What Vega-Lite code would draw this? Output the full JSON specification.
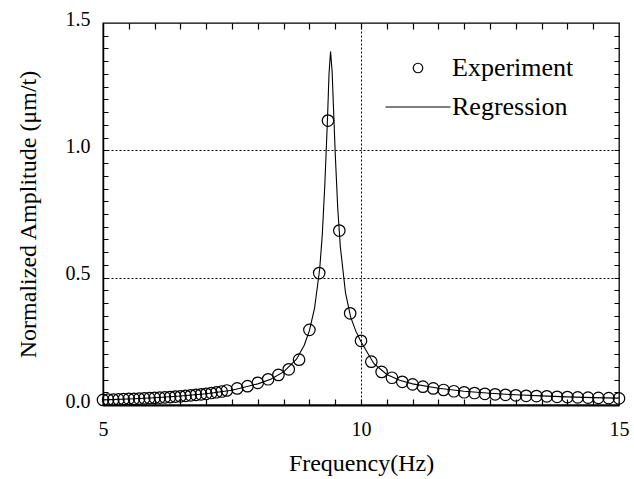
{
  "$schema": "https://vega.github.io/schema/vega-lite/v6.json",
  "width": 516,
  "height": 382,
  "autosize": "none",
  "padding": {"left": 103, "top": 23, "right": 15, "bottom": 74},
  "background": "white",
  "config": {
    "view": {"stroke": "black", "strokeWidth": 1.3},
    "font": "serif",
    "axis": {
      "labelFont": "serif",
      "titleFont": "serif",
      "labelColor": "black",
      "titleColor": "black",
      "domainColor": "black",
      "tickColor": "black",
      "gridColor": "black",
      "labelFontWeight": "normal",
      "titleFontWeight": "normal",
      "labelFlush": false,
      "labelOverlap": false
    }
  },
  "datasets": {
    "exp": [
      {"f": 5.0, "a": 0.020, "series": "Experiment"},
      {"f": 5.1, "a": 0.021, "series": "Experiment"},
      {"f": 5.2, "a": 0.021, "series": "Experiment"},
      {"f": 5.3, "a": 0.022, "series": "Experiment"},
      {"f": 5.4, "a": 0.023, "series": "Experiment"},
      {"f": 5.5, "a": 0.024, "series": "Experiment"},
      {"f": 5.6, "a": 0.024, "series": "Experiment"},
      {"f": 5.7, "a": 0.025, "series": "Experiment"},
      {"f": 5.8, "a": 0.026, "series": "Experiment"},
      {"f": 5.9, "a": 0.027, "series": "Experiment"},
      {"f": 6.0, "a": 0.028, "series": "Experiment"},
      {"f": 6.1, "a": 0.029, "series": "Experiment"},
      {"f": 6.2, "a": 0.030, "series": "Experiment"},
      {"f": 6.3, "a": 0.031, "series": "Experiment"},
      {"f": 6.4, "a": 0.033, "series": "Experiment"},
      {"f": 6.5, "a": 0.034, "series": "Experiment"},
      {"f": 6.6, "a": 0.036, "series": "Experiment"},
      {"f": 6.7, "a": 0.038, "series": "Experiment"},
      {"f": 6.8, "a": 0.040, "series": "Experiment"},
      {"f": 6.9, "a": 0.042, "series": "Experiment"},
      {"f": 7.0, "a": 0.044, "series": "Experiment"},
      {"f": 7.1, "a": 0.047, "series": "Experiment"},
      {"f": 7.2, "a": 0.050, "series": "Experiment"},
      {"f": 7.3, "a": 0.053, "series": "Experiment"},
      {"f": 7.4, "a": 0.057, "series": "Experiment"},
      {"f": 7.6, "a": 0.065, "series": "Experiment"},
      {"f": 7.8, "a": 0.074, "series": "Experiment"},
      {"f": 8.0, "a": 0.087, "series": "Experiment"},
      {"f": 8.2, "a": 0.101, "series": "Experiment"},
      {"f": 8.4, "a": 0.118, "series": "Experiment"},
      {"f": 8.6, "a": 0.140, "series": "Experiment"},
      {"f": 8.8, "a": 0.178, "series": "Experiment"},
      {"f": 9.0, "a": 0.295, "series": "Experiment"},
      {"f": 9.19, "a": 0.518, "series": "Experiment"},
      {"f": 9.36, "a": 1.117, "series": "Experiment"},
      {"f": 9.58, "a": 0.685, "series": "Experiment"},
      {"f": 9.79, "a": 0.360, "series": "Experiment"},
      {"f": 10.0, "a": 0.252, "series": "Experiment"},
      {"f": 10.2, "a": 0.170, "series": "Experiment"},
      {"f": 10.4, "a": 0.130, "series": "Experiment"},
      {"f": 10.6, "a": 0.107, "series": "Experiment"},
      {"f": 10.8, "a": 0.091, "series": "Experiment"},
      {"f": 11.0, "a": 0.081, "series": "Experiment"},
      {"f": 11.2, "a": 0.072, "series": "Experiment"},
      {"f": 11.4, "a": 0.065, "series": "Experiment"},
      {"f": 11.6, "a": 0.059, "series": "Experiment"},
      {"f": 11.8, "a": 0.054, "series": "Experiment"},
      {"f": 12.0, "a": 0.050, "series": "Experiment"},
      {"f": 12.2, "a": 0.047, "series": "Experiment"},
      {"f": 12.4, "a": 0.044, "series": "Experiment"},
      {"f": 12.6, "a": 0.042, "series": "Experiment"},
      {"f": 12.8, "a": 0.040, "series": "Experiment"},
      {"f": 13.0, "a": 0.038, "series": "Experiment"},
      {"f": 13.2, "a": 0.036, "series": "Experiment"},
      {"f": 13.4, "a": 0.035, "series": "Experiment"},
      {"f": 13.6, "a": 0.034, "series": "Experiment"},
      {"f": 13.8, "a": 0.032, "series": "Experiment"},
      {"f": 14.0, "a": 0.031, "series": "Experiment"},
      {"f": 14.2, "a": 0.030, "series": "Experiment"},
      {"f": 14.4, "a": 0.029, "series": "Experiment"},
      {"f": 14.6, "a": 0.028, "series": "Experiment"},
      {"f": 14.8, "a": 0.027, "series": "Experiment"},
      {"f": 15.0, "a": 0.026, "series": "Experiment"}
    ],
    "reg": [
      {"f": 5.0, "a": 0.020},
      {"f": 5.5, "a": 0.0236},
      {"f": 6.0, "a": 0.0286},
      {"f": 6.5, "a": 0.0351},
      {"f": 7.0, "a": 0.0443},
      {"f": 7.5, "a": 0.058},
      {"f": 8.0, "a": 0.083},
      {"f": 8.25, "a": 0.101},
      {"f": 8.5, "a": 0.130},
      {"f": 8.75, "a": 0.180},
      {"f": 8.9, "a": 0.235},
      {"f": 9.0, "a": 0.292},
      {"f": 9.1, "a": 0.380},
      {"f": 9.2, "a": 0.535},
      {"f": 9.25, "a": 0.670},
      {"f": 9.3, "a": 0.870},
      {"f": 9.35, "a": 1.120},
      {"f": 9.38, "a": 1.300},
      {"f": 9.41, "a": 1.388},
      {"f": 9.44, "a": 1.310},
      {"f": 9.47, "a": 1.150},
      {"f": 9.5, "a": 0.990},
      {"f": 9.55, "a": 0.770},
      {"f": 9.6, "a": 0.620},
      {"f": 9.7, "a": 0.440},
      {"f": 9.8, "a": 0.345},
      {"f": 9.9, "a": 0.290},
      {"f": 10.0, "a": 0.248},
      {"f": 10.25, "a": 0.162},
      {"f": 10.5, "a": 0.120},
      {"f": 10.75, "a": 0.097},
      {"f": 11.0, "a": 0.083},
      {"f": 11.5, "a": 0.066},
      {"f": 12.0, "a": 0.054},
      {"f": 12.5, "a": 0.046},
      {"f": 13.0, "a": 0.040},
      {"f": 13.5, "a": 0.036},
      {"f": 14.0, "a": 0.032},
      {"f": 14.5, "a": 0.029},
      {"f": 15.0, "a": 0.027}
    ]
  },
  "resolve": {"axis": {"x": "independent", "y": "independent"}},
  "layer": [
    {
      "data": {"name": "reg"},
      "mark": {"type": "line", "color": "black", "strokeWidth": 1.1, "clip": false},
      "encoding": {
        "x": {
          "field": "f", "type": "quantitative",
          "scale": {"domain": [5, 15], "nice": false, "zero": false},
          "axis": {
            "orient": "bottom", "tickCount": 100,
            "values": [5, 10, 15], "format": "d",
            "title": "Frequency(Hz)", "labelFontSize": 20, "titleFontSize": 24,
            "ticks": false,
            "domainWidth": 2, "domainColor": "black",
            "grid": true, "gridDash": [2, 2], "gridWidth": 1,
            "gridOpacity": {"condition": {"test": "abs(datum.value - 10) < 0.01", "value": 1}, "value": 0},
            "labelPadding": 14, "labelOverlap": false,
            "titleX": 258, "titleY": 65, "titleAlign": "center", "titleBaseline": "alphabetic"
          }
        },
        "y": {
          "field": "a", "type": "quantitative",
          "scale": {"domain": [0, 1.5], "nice": false, "zero": false},
          "axis": {
            "orient": "left", "tickCount": 100,
            "values": [0, 0.5, 1, 1.5],
            "format": ".1f",
            "title": "Normalized Amplitude (μm/t)", "labelFontSize": 20, "titleFontSize": 24,
            "ticks": false,
            "domainWidth": 1.5, "domainColor": "black",
            "grid": true, "gridDash": [2, 2], "gridWidth": 1,
            "gridOpacity": {"condition": {"test": "abs(datum.value - 0.5) < 0.01 || abs(datum.value - 1) < 0.01", "value": 1}, "value": 0},
            "labelPadding": 13, "labelOffset": -4, "labelOverlap": false,
            "titleX": -68, "titleY": 191, "titleAngle": -90, "titleAlign": "center", "titleBaseline": "alphabetic"
          }
        }
      }
    },
    {
      "data": {"name": "exp"},
      "mark": {"type": "point", "filled": false, "stroke": "black", "strokeWidth": 1.2, "size": 146, "opacity": 1, "clip": false},
      "encoding": {
        "x": {
          "field": "f", "type": "quantitative",
          "scale": {"domain": [5, 15], "nice": false, "zero": false},
          "axis": {
            "orient": "top", "tickCount": 100,
            "values": [5.5, 6, 6.5, 7, 7.5, 8, 8.5, 9, 9.5, 10, 10.5, 11, 11.5, 12, 12.5, 13, 13.5, 14, 14.5],
            "labels": false, "domain": false, "ticks": false, "title": null,
            "grid": true, "gridDash": [6, 370, 6, 1000], "gridWidth": 1.2, "gridOpacity": 1, "gridColor": "black"
          }
        },
        "y": {
          "field": "a", "type": "quantitative",
          "scale": {"domain": [0, 1.5], "nice": false, "zero": false},
          "axis": {
            "orient": "right", "tickCount": 100,
            "values": [0.05, 0.1, 0.15, 0.2, 0.25, 0.3, 0.35, 0.4, 0.45, 0.5, 0.55, 0.6, 0.65, 0.7, 0.75, 0.8, 0.85, 0.9, 0.95, 1, 1.05, 1.1, 1.15, 1.2, 1.25, 1.3, 1.35, 1.4, 1.45],
            "labels": false, "domain": false, "ticks": false, "title": null,
            "grid": true, "gridDash": [5, 506, 5, 1000], "gridWidth": 1.2, "gridOpacity": 1, "gridColor": "black"
          }
        },
        "shape": {
          "field": "series", "type": "nominal",
          "scale": {
            "domain": ["Experiment", "Regression"],
            "range": ["M-0.95,0A0.95,0.95,0,1,1,0.95,0A0.95,0.95,0,1,1,-0.95,0Z", "M-6.5,0L6.5,0"]
          },
          "legend": {
            "title": null, "orient": "none", "legendX": 302, "legendY": 32,
            "symbolSize": 100, "symbolStrokeColor": "black", "symbolFillColor": "transparent",
            "symbolStrokeWidth": 1.2, "labelFont": "serif", "labelFontSize": 26,
            "labelColor": "black", "labelOffset": 21, "rowPadding": 13, "padding": 0, "labelLimit": 0
          }
        }
      }
    }
  ]
}
